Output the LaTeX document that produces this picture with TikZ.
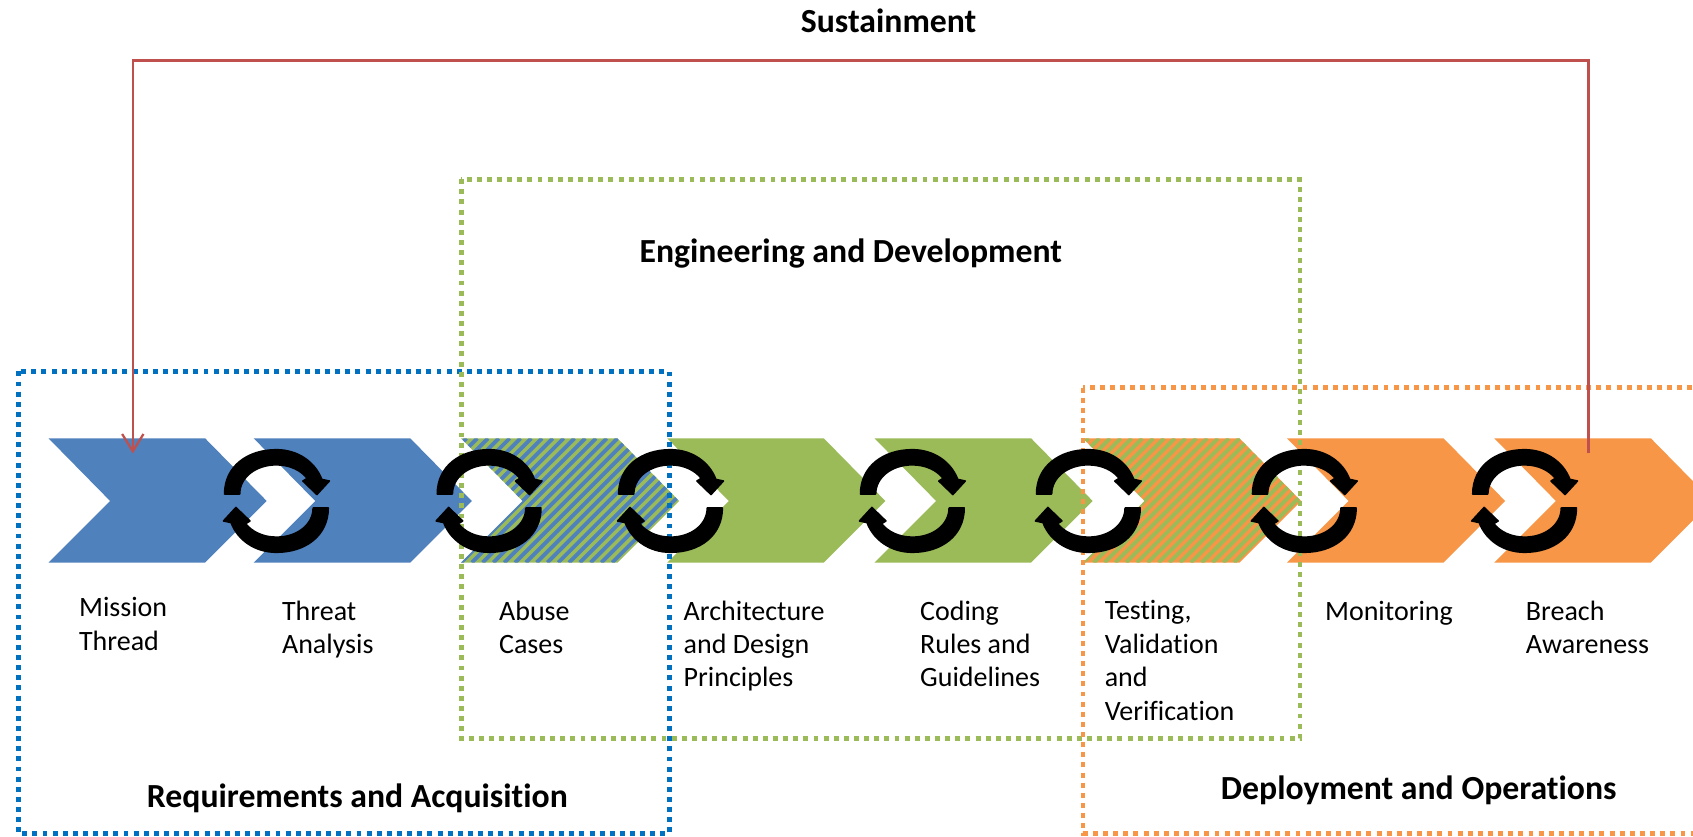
\documentclass[tikz,border=0pt]{standalone}
\usepackage{fontspec}
\setmainfont{Carlito}[Ligatures=NoCommon]
\usetikzlibrary{arrows.meta}
\definecolor{cblue}{HTML}{4F81BD}
\definecolor{cgreen}{HTML}{9BBB59}
\definecolor{corange}{HTML}{F79646}
\definecolor{dblue}{HTML}{0070C0}
\definecolor{cred}{HTML}{C0504D}
\newcommand{\chevpath}[1]{(#1,406)--(#1+145,406)--(#1+202,464)--(#1+145,521)--(#1,521)--(#1+57,464)--cycle}
\newcommand{\chev}[2]{\fill[#2] \chevpath{#1};}
\newcommand{\hatchchev}[3]{%
  \fill[#2] \chevpath{#1};
  \begin{scope}
    \clip \chevpath{#1};
    \foreach \k in {-14,...,22}{
      \draw[#3,line width=2.9pt] (#1+\k*10,521)--(#1+\k*10+115,406);
    }
  \end{scope}}
\newcommand{\looparc}{%
  \fill[black,draw=black,line width=1.2pt,line join=round]
   (-48,-6.5) .. controls (-48,-32) and (-27,-47.5) .. (0,-47.5)
   .. controls (20,-47.5) and (36,-36) .. (42,-20)
   -- (49,-18.5) -- (37.5,-6) -- (24.5,-18.5) -- (28.5,-21)
   .. controls (23,-28) and (13,-33.5) .. (0,-33.5)
   .. controls (-19,-33.5) and (-34,-22) .. (-34,-6.5) -- cycle;}
\newcommand{\loopicon}[1]{%
  \begin{scope}[shift={(#1,464)}]
    \looparc
    \begin{scope}[rotate=180]\looparc\end{scope}
  \end{scope}}
\tikzset{
  dotbox/.style={line width=3.7pt,dash pattern=on 3.7pt off 3.9pt},
  steplabel/.style={anchor=north west,inner sep=0pt,align=left,font=\fontsize{21}{25.1}\selectfont},
  grouplabel/.style={inner sep=0pt,font=\fontsize{25.3}{30}\selectfont\bfseries},
  sust/.style={draw=cred,line width=1.9pt,-{Straight Barb[length=13pt,width=16pt,line width=1.7pt]}}
}
\begin{document}
\begin{tikzpicture}[x=0.81pt,y=-0.81pt]
\useasboundingbox (0,0) rectangle (1568,775);
\clip (0,0) rectangle (1568,775);
\fill[white] (0,0) rectangle (1568,775);
\chev{45}{cblue}
\chev{235}{cblue}
\hatchchev{427}{cgreen}{cblue}
\chev{618}{cgreen}
\chev{810}{cgreen}
\hatchchev{1003}{corange}{cgreen}
\chev{1192}{corange}
\chev{1384}{corange}
\draw[dotbox,dblue] (17,344) rectangle (620,772);
\draw[dotbox,cgreen] (427,166) rectangle (1204,684);
\draw[dotbox,corange] (1003,359) rectangle (1590,772);
\coordinate (sustFrom) at (1471,420);
\coordinate (sustA) at (1471,56);
\coordinate (sustB) at (123,56);
\coordinate (sustTo) at (123,420);
\draw[sust] (sustFrom)--(sustA)--(sustB)--(sustTo);
\loopicon{256}
\loopicon{453}
\loopicon{621}
\loopicon{845}
\loopicon{1008}
\loopicon{1208}
\loopicon{1412}
\node[steplabel] (s1) at (73,553) {Mission\\Thread};
\node[steplabel] (s2) at (261,556) {Threat\\Analysis};
\node[steplabel] (s3) at (462,556) {Abuse\\Cases};
\node[steplabel] (s4) at (633,556) {Architecture\\and Design\\Principles};
\node[steplabel] (s5) at (852,556) {Coding\\Rules and\\Guidelines};
\node[steplabel] (s6) at (1023,556) {Testing,\\Validation\\and\\Verification};
\node[steplabel] (s7) at (1227,557) {Monitoring};
\node[steplabel] (s8) at (1413,556) {Breach\\Awareness};
\node[grouplabel] (g1) at (823,19) {Sustainment};
\node[grouplabel] (g2) at (788,235) {Engineering and Development};
\node[grouplabel] (g3) at (331,739) {Requirements and Acquisition};
\node[grouplabel] (g4) at (1314,732) {Deployment and Operations};
\end{tikzpicture}
\end{document}
